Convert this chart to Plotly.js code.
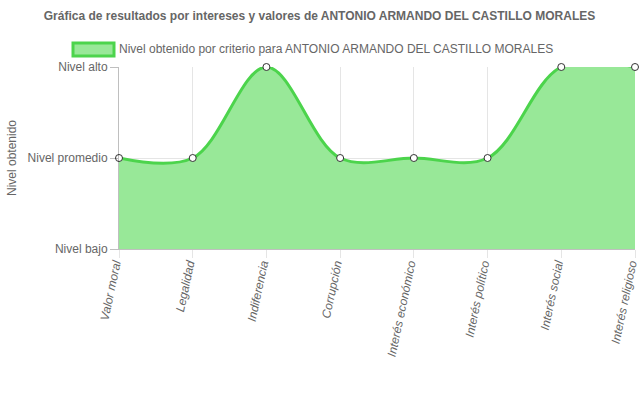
<!DOCTYPE html>
<html>
<head>
<meta charset="utf-8">
<script src="https://cdn.plot.ly/plotly-3.0.1.min.js"></script>
<style>html,body{margin:0;padding:0;background:#fff}#chart{width:639px;height:396px}</style>
</head>
<body>
<div id="chart"></div>
<script>
const categories = ["Valor moral","Legalidad","Indiferencia","Corrupción","Interés económico","Interés político","Interés social","Interés religioso"];
const values = [2,2,3,2,2,2,3,3];
const levelValues = [1,2,3];
const levelLabels = ["Nivel bajo","Nivel promedio","Nivel alto"];
const seriesName = "Nivel obtenido por criterio para ANTONIO ARMANDO DEL CASTILLO MORALES";
const chartTitle = "Gráfica de resultados por intereses y valores de ANTONIO ARMANDO DEL CASTILLO MORALES";
const yTitle = "Nivel obtenido";

const xIdx = categories.map((c,i)=>i);
const trace = {
  x: xIdx, y: values, type: 'scatter', mode: 'lines+markers',
  line: {shape: 'spline', smoothing: 1, color: '#4cd44c', width: 3},
  fill: 'tozeroy', fillcolor: 'rgba(152,232,152,1)',
  marker: {size: 7, color: '#fff', line: {color: '#333', width: 1}},
  cliponaxis: false, showlegend: false, hoverinfo: 'skip'
};
const font = {family: 'Liberation Sans, Arial, sans-serif', size: 12, color: '#666'};
const layout = {
  width: 639, height: 396,
  margin: {l: 119, r: 4, t: 67, b: 147},
  paper_bgcolor: '#fff', plot_bgcolor: '#fff',
  font: font, showlegend: false,
  title: {text: '<b>' + chartTitle + '</b>', x: 0.5, xanchor: 'center', y: 1 - 16/396, yanchor: 'middle', font: {family: font.family, size: 12, color: '#666'}},
  xaxis: {
    range: [0, 7], tickmode: 'array', tickvals: xIdx, ticktext: categories,
    tickangle: -78, tickfont: {family: font.family, size: 12, color: '#666', style: 'italic'},
    ticklabeloverflow: 'allow', ticklabelshift: -4, ticklabelstandoff: -6,
    ticks: 'outside', ticklen: 8, tickcolor: 'rgba(0,0,0,0.1)',
    showgrid: true, gridcolor: 'rgba(0,0,0,0.1)', gridwidth: 1,
    showline: true, linecolor: 'rgba(0,0,0,0.25)', linewidth: 1,
    zeroline: false, automargin: false, fixedrange: true
  },
  yaxis: {
    range: [1, 3], tickmode: 'array', tickvals: levelValues, ticktext: levelLabels,
    tickfont: {family: font.family, size: 12, color: '#666'},
    ticks: 'outside', ticklen: 8, tickcolor: 'rgba(0,0,0,0.25)',
    showgrid: true, gridcolor: 'rgba(0,0,0,0.1)', gridwidth: 1,
    showline: true, linecolor: 'rgba(0,0,0,0.25)', linewidth: 1,
    zeroline: false, automargin: false, fixedrange: true
  },
  shapes: [{type: 'rect', xref: 'paper', yref: 'paper',
    x0: (73-119)/516, x1: (114-119)/516, y0: (249-56)/182, y1: (249-43)/182,
    fillcolor: 'rgba(152,232,152,1)', line: {color: '#4cd44c', width: 3}}],
  annotations: [
    {xref: 'paper', yref: 'paper', x: (117-119)/516, y: (249-49.5)/182,
     xanchor: 'left', yanchor: 'middle', showarrow: false, text: seriesName,
     font: {family: font.family, size: 12, color: '#666'}},
    {xref: 'paper', yref: 'paper', x: (12-119)/516, y: (249-158)/182,
     xanchor: 'center', yanchor: 'middle', showarrow: false, text: yTitle, textangle: -90,
     font: {family: font.family, size: 12, color: '#666'}}
  ]
};
Plotly.newPlot('chart', [trace], layout, {displayModeBar: false, staticPlot: true});
</script>
</body>
</html>
